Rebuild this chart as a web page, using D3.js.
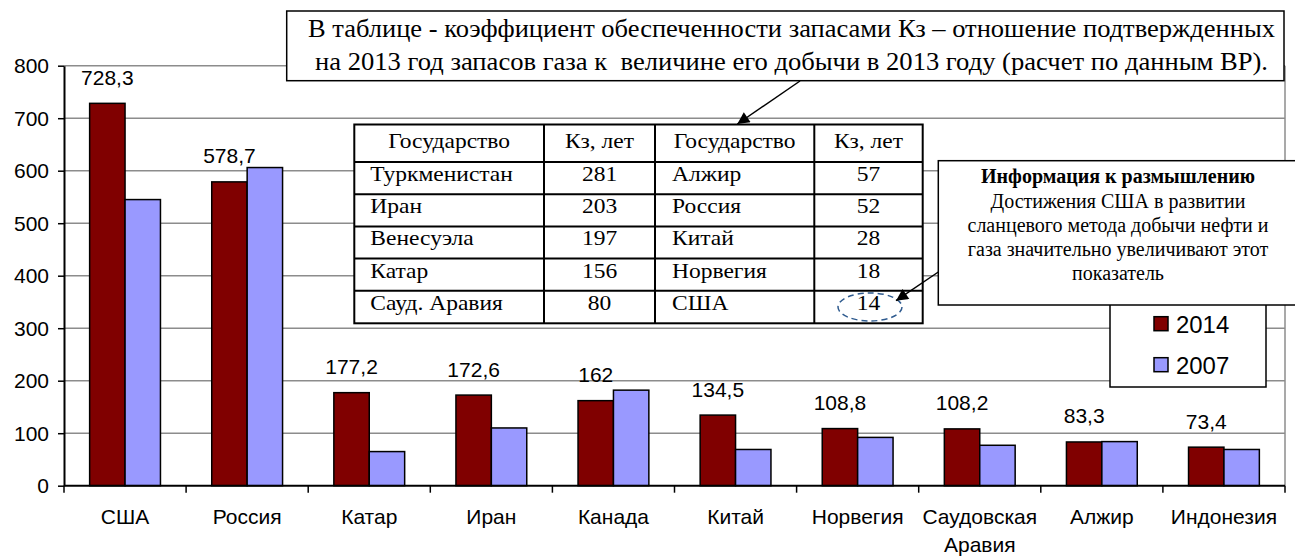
<!DOCTYPE html>
<html><head><meta charset="utf-8">
<script src="https://cdn.jsdelivr.net/npm/d3@7"></script>
<style>body{margin:0;background:#fff} svg{display:block} text{white-space:pre}</style>
</head><body>
<svg id="c" width="1295" height="556"></svg>
<script>
// ---- data ----
const categories = ["США","Россия","Катар","Иран","Канада","Китай","Норвегия","Саудовская Аравия","Алжир","Индонезия"];
const series2014 = [728.3,578.7,177.2,172.6,162,134.5,108.8,108.2,83.3,73.4];
const series2007 = [545,606,65,110,182,69,92,77,84,69];
const seriesNames = ["2014","2007"];
const yTicks = [0,100,200,300,400,500,600,700,800];
const tableHeader = ["Государство","Кз, лет","Государство","Кз, лет"];
const tableLeftNames = ["Туркменистан","Иран","Венесуэла","Катар","Сауд. Аравия"];
const tableLeftValues = [281,203,197,156,80];
const tableRightNames = ["Алжир","Россия","Китай","Норвегия","США"];
const tableRightValues = [57,52,28,18,14];
const titleLines = ["В таблице - коэффициент обеспеченности запасами Кз – отношение подтвержденных",
                    "на 2013 год запасов газа к  величине его добычи в 2013 году (расчет по данным BP)."];
const infoTitle = "Информация к размышлению";
const infoLines = ["Достижения США в развитии","сланцевого метода добычи нефти и","газа значительно увеличивают этот","показатель"];

// ---- setup ----
const svg = d3.select("#c");
const SANS = "Arial, 'Liberation Sans', sans-serif";
const SERIF = "'Times New Roman', 'Liberation Serif', serif";
const colors = {"2014":"#800000","2007":"#9999FF"};
const values = {"2014":series2014,"2007":series2007};

const L = 64, R = 1285, T = 65.7, B = 485.7;
const x0 = d3.scaleBand().domain(categories).range([L,R]).paddingInner(0.42).paddingOuter(0.21);
const x1 = d3.scaleBand().domain(seriesNames).range([0,x0.bandwidth()]);
const y = d3.scaleLinear().domain([0,800]).range([B,T]);

function txt(parent, x, yy, s, o){
  const t = parent.append("text")
    .attr("transform",`translate(${x},${yy}) scale(${o.sx||1},1)`)
    .attr("text-anchor", o.anchor||"start")
    .attr("font-family", o.family||SANS)
    .attr("font-size", o.size||20)
    .attr("font-weight", o.weight||"normal")
    .attr("fill", o.fill||"#000")
    .text(s);
  return t;
}

// gridlines
svg.append("g").selectAll("line").data(yTicks.filter(d=>d>0)).join("line")
  .attr("x1",L).attr("x2",R).attr("y1",d=>y(d)).attr("y2",d=>y(d))
  .attr("stroke","#8c8c8c").attr("stroke-width",1.5);
// right border
svg.append("line").attr("x1",R).attr("x2",R).attr("y1",T).attr("y2",B)
  .attr("stroke","#8c8c8c").attr("stroke-width",1.5);

// bars
const gBars = svg.append("g");
categories.forEach((c,i)=>{
  seriesNames.forEach(s=>{
    const v = values[s][i];
    gBars.append("rect")
      .attr("x", x0(c)+x1(s)).attr("width", x1.bandwidth())
      .attr("y", y(v)).attr("height", y(0)-y(v))
      .attr("fill", colors[s]).attr("stroke","#000").attr("stroke-width",1.5);
  });
});

// data labels (2014)
const gLab = svg.append("g");
categories.forEach((c,i)=>{
  const v = series2014[i];
  txt(gLab, x0(c)+x1("2014")+x1.bandwidth()/2, y(v)-18.5, String(v).replace(".",","), {size:20, sx:1.05, anchor:"middle"});
});

// y axis
const yAxis = svg.append("g").attr("transform",`translate(${L},0)`)
  .call(d3.axisLeft(y).tickValues(yTicks).tickSize(6).tickSizeOuter(0).tickPadding(9));
yAxis.select(".domain").attr("stroke","#000").attr("stroke-width",2);
yAxis.selectAll(".tick line").attr("stroke","#000").attr("stroke-width",1.5);
yAxis.selectAll(".tick text").attr("font-family",SANS).attr("font-size",20).attr("fill","#000")
  .attr("x",-15/1.05).attr("dy","0.36em").attr("transform","scale(1.05,1)");

// x axis
const xAxis = svg.append("g").attr("transform",`translate(0,${B})`)
  .call(d3.axisBottom(x0).tickSize(0).tickSizeOuter(0).tickFormat(""));
xAxis.select(".domain").attr("stroke","#000").attr("stroke-width",2).attr("d",`M${L},0H${R}`);
const bounds = categories.map(c=>x0(c)-x0.step()*0.21).concat([R]);
xAxis.append("g").selectAll("line").data(bounds).join("line")
  .attr("x1",d=>d).attr("x2",d=>d).attr("y1",0).attr("y2",7)
  .attr("stroke","#000").attr("stroke-width",1.5);
const gCat = svg.append("g");
categories.forEach(c=>{
  const cx = x0(c)+x0.bandwidth()/2;
  c.split(" ").forEach((w,k)=>{
    txt(gCat, cx, 524+k*27.5, w, {size:20, sx:1.05, anchor:"middle"});
  });
});

// legend
const gLeg = svg.append("g");
gLeg.append("rect").attr("x",1110).attr("y",285).attr("width",156).attr("height",102)
  .attr("fill","#fff").attr("stroke","#000").attr("stroke-width",1.5);
seriesNames.forEach((s,k)=>{
  gLeg.append("rect").attr("x",1154).attr("y",316.7+k*41).attr("width",14).attr("height",14)
    .attr("fill",colors[s]).attr("stroke","#000").attr("stroke-width",1.5);
  txt(gLeg, 1176, 332.5+k*41, s, {size:23, sx:1.04});
});

// markers
const defs = svg.append("defs");
defs.append("marker").attr("id","ah").attr("viewBox","0 0 10 10").attr("refX",10).attr("refY",5)
  .attr("markerWidth",16).attr("markerHeight",12).attr("markerUnits","userSpaceOnUse").attr("orient","auto")
  .append("path").attr("d","M0,0L10,5L0,10Z").attr("fill","#000");

// title callout
const gTitle = svg.append("g");
gTitle.append("rect").attr("x",286.7).attr("y",11).attr("width",997.3).attr("height",69.7)
  .attr("fill","#fff").attr("stroke","#000").attr("stroke-width",1.5);
titleLines.forEach((l,k)=>{
  txt(gTitle, k===0?308:315, 36.7+k*33.3, l, {size:25, family:SERIF})
    .attr("textLength", k===0?967:953).attr("lengthAdjust","spacingAndGlyphs");
});
svg.append("line").attr("x1",800).attr("y1",81).attr("x2",737.3).attr("y2",124)
  .attr("stroke","#000").attr("stroke-width",1.5).attr("marker-end","url(#ah)");

// table
const gTab = svg.append("g");
const colX = [354.3,544,655,814.3,922.7];
const rowY = [124.5,162,194.2,226.4,258.6,290.8,323.3];
gTab.append("rect").attr("x",colX[0]).attr("y",rowY[0]).attr("width",colX[4]-colX[0]).attr("height",rowY[6]-rowY[0])
  .attr("fill","#fff").attr("stroke","#000").attr("stroke-width",2);
colX.slice(1,4).forEach(xx=>gTab.append("line").attr("x1",xx).attr("x2",xx).attr("y1",rowY[0]).attr("y2",rowY[6]).attr("stroke","#000").attr("stroke-width",2));
rowY.slice(1,6).forEach(yy=>gTab.append("line").attr("x1",colX[0]).attr("x2",colX[4]).attr("y1",yy).attr("y2",yy).attr("stroke","#000").attr("stroke-width",2));
const tOpt = {size:21, family:SERIF, sx:1.12};
tableHeader.forEach((h,j)=>txt(gTab,(colX[j]+colX[j+1])/2, rowY[0]+23, h, {...tOpt, anchor:"middle"}));
for(let r=0;r<5;r++){
  const by = rowY[r+1]+19;
  txt(gTab, colX[0]+16, by, tableLeftNames[r], tOpt);
  txt(gTab, (colX[1]+colX[2])/2, by, String(tableLeftValues[r]), {...tOpt, anchor:"middle"});
  txt(gTab, colX[2]+17, by, tableRightNames[r], tOpt);
  txt(gTab, (colX[3]+colX[4])/2, by, String(tableRightValues[r]), {...tOpt, anchor:"middle"});
}
gTab.append("ellipse").attr("cx",870).attr("cy",307).attr("rx",32).attr("ry",14)
  .attr("fill","none").attr("stroke","#2F5B8F").attr("stroke-width",1.5).attr("stroke-dasharray","6,4");

// info box
const gInfo = svg.append("g");
gInfo.append("rect").attr("x",938.3).attr("y",160.7).attr("width",370).attr("height",144.3)
  .attr("fill","#fff").attr("stroke","#000").attr("stroke-width",1.5);
txt(gInfo, 1118, 183.3, infoTitle, {size:20, family:SERIF, weight:"bold", sx:1.0, anchor:"middle"});
infoLines.forEach((l,k)=>txt(gInfo, 1118, 207.5+k*24.3, l, {size:20, family:SERIF, sx:1.0, anchor:"middle"}));
svg.append("line").attr("x1",938.3).attr("y1",272).attr("x2",896).attr("y2",300.7)
  .attr("stroke","#000").attr("stroke-width",1.5).attr("marker-end","url(#ah)");
</script>
</body></html>
